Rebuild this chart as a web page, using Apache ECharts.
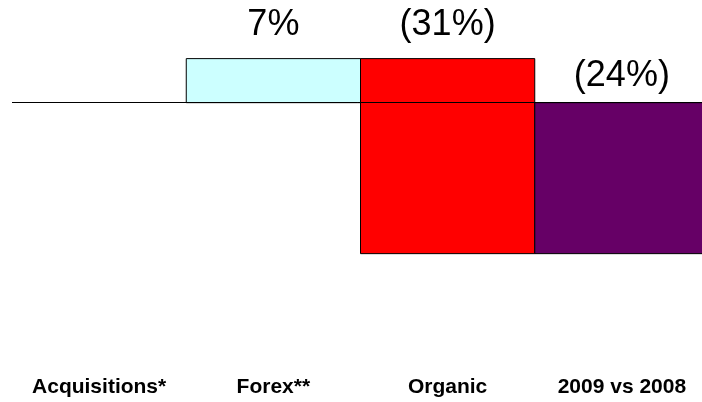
<!DOCTYPE html>
<html>
<head>
<meta charset="utf-8">
<script src="https://cdn.jsdelivr.net/npm/echarts@6/dist/echarts.min.js"></script>
<style>
  html, body { margin: 0; padding: 0; background: #ffffff; }
  #chart { width: 702px; height: 402px; }
</style>
</head>
<body>
<div id="chart"></div>
<script>
// Bridge of the year-on-year change, in percentage points
const categories = ['Acquisitions*', 'Forex**', 'Organic', '2009 vs 2008'];
const changes = [0, 7, -31];        // step contributions
const totalChange = -24;            // resulting total (last column)
const valueLabels = ['', '7%', '(31%)', '(24%)'];

// Column fills and label lift above each column top (px)
const fills = ['#ffffff', '#ccffff', '#ff0000', '#660066'];
const labelLift = [16, 16, 16, 9];

// Build floating ranges [index, low, high] for each column
const ranges = [];
let running = 0;
changes.forEach(function (c, i) {
  const start = running;
  running += c;
  ranges.push([i, Math.min(start, running), Math.max(start, running)]);
});
ranges.push([categories.length - 1, Math.min(0, totalChange), Math.max(0, totalChange)]);

function renderItem(params, api) {
  const idx = params.dataIndex;
  const lo = api.value(1), hi = api.value(2);
  if (hi === lo) return { type: 'group', children: [] };
  const topPt = api.coord([api.value(0), hi]);
  const botPt = api.coord([api.value(0), lo]);
  const w = api.size([1, 0])[0];
  return {
    type: 'group',
    children: [
      {
        type: 'rect',
        shape: { x: topPt[0] - w / 2, y: topPt[1], width: w, height: botPt[1] - topPt[1] },
        style: { fill: fills[idx], stroke: '#000000', lineWidth: 1 }
      },
      {
        type: 'text',
        style: {
          text: valueLabels[idx],
          x: topPt[0],
          y: topPt[1] - labelLift[idx],
          align: 'center',
          verticalAlign: 'bottom',
          font: '36px "Liberation Sans", Arial, sans-serif',
          fill: '#000000'
        }
      }
    ]
  };
}

const chart = echarts.init(document.getElementById('chart'), null, { renderer: 'canvas' });
chart.setOption({
  animation: false,
  backgroundColor: '#ffffff',
  grid: {
    left: 12, width: 697, top: 2, height: 352.3,
    containLabel: false,
    outerBoundsMode: 'none'
  },
  xAxis: {
    type: 'category',
    data: categories,
    position: 'bottom',
    axisLine: { show: false },
    axisTick: { show: false },
    splitLine: { show: false },
    axisLabel: {
      interval: 0,
      margin: 22,
      color: '#000000',
      fontFamily: '"Liberation Sans", Arial, sans-serif',
      fontWeight: 'bold',
      fontSize: 21
    }
  },
  yAxis: {
    type: 'value',
    min: -40,
    max: 16,
    show: false,
    splitLine: { show: false }
  },
  series: [
    {
      type: 'custom',
      renderItem: renderItem,
      data: ranges,
      clip: false,
      z: 2,
      // zero line across the whole plot, above the columns
      markLine: {
        silent: true,
        symbol: 'none',
        label: { show: false },
        z: 10,
        lineStyle: { color: '#000000', width: 1, type: 'solid' },
        data: [{ yAxis: 0 }]
      }
    }
  ]
});
</script>
</body>
</html>
